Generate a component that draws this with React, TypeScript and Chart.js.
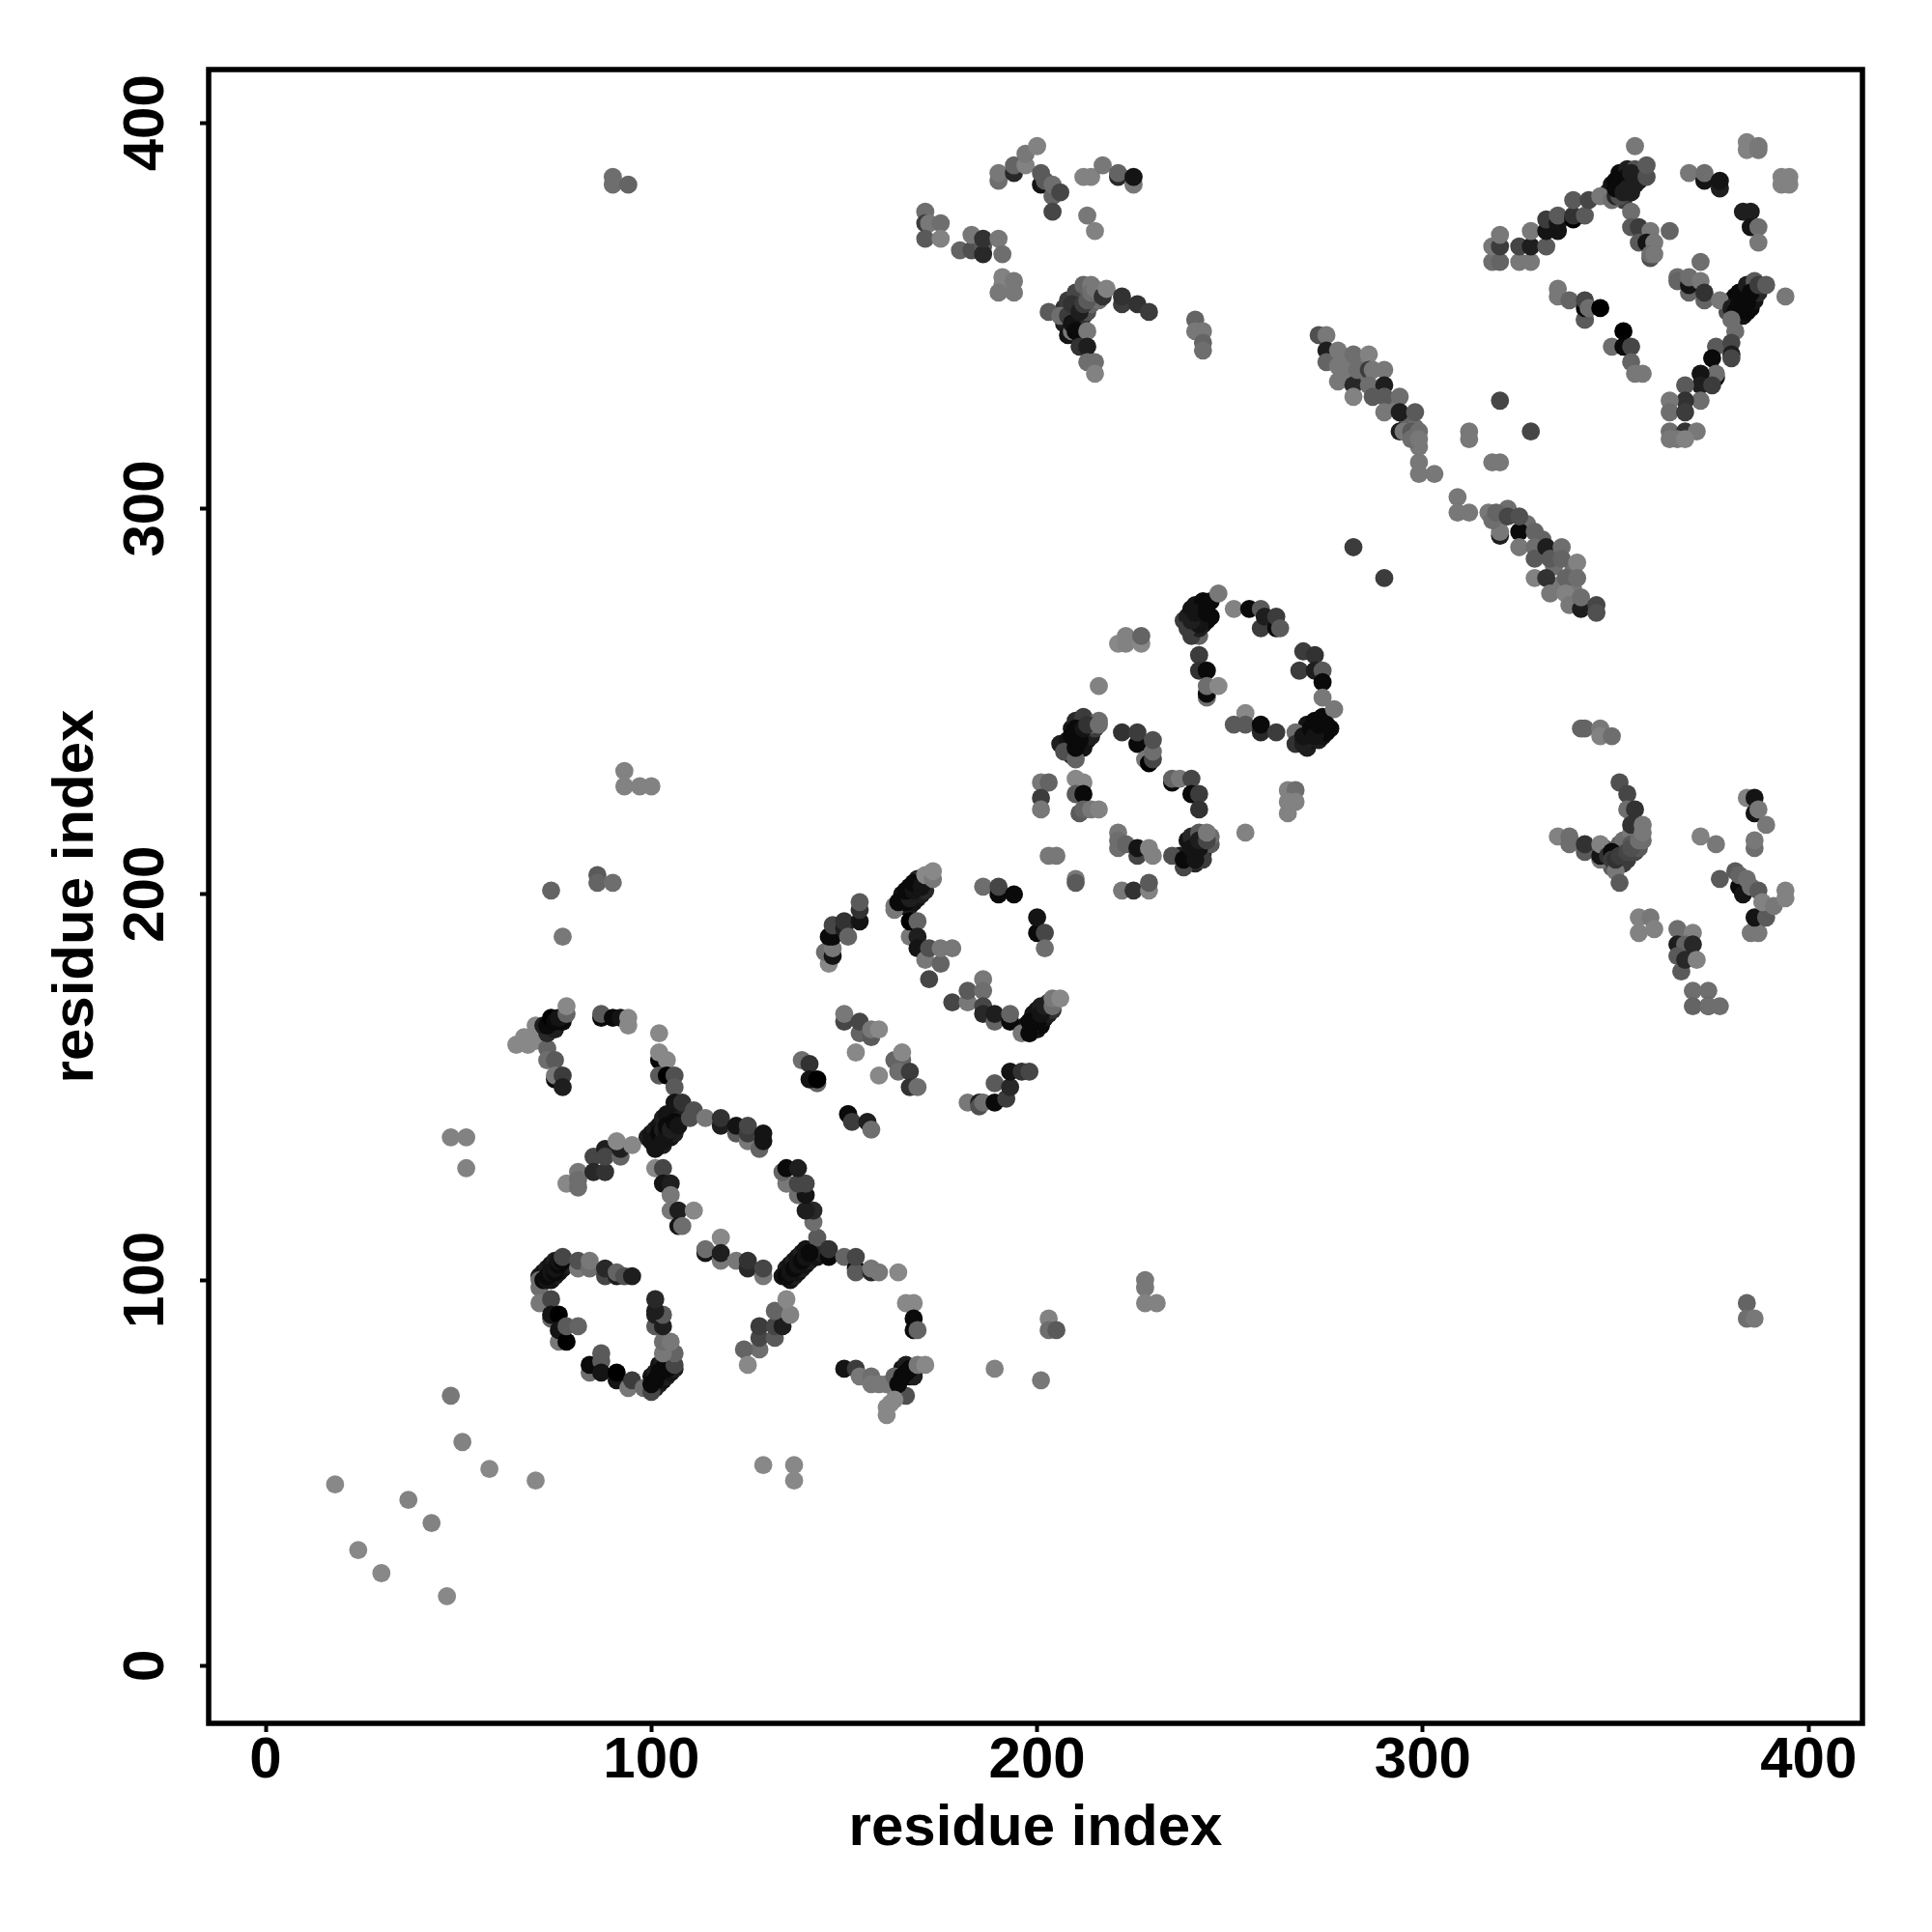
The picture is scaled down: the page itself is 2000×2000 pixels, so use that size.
import React, { useEffect, useRef } from "react";
import { Chart, registerables } from "chart.js";
Chart.register(...registerables);

type P = [number, number, number]; // residue x, residue y, grey level

const tickValues = [0, 100, 200, 300, 400];
const xAxisTitle = "residue index";
const yAxisTitle = "residue index";

const bandFill: P[] = [[71,101,30],[72,102,20],[73,103,30],[74,104,20],[75,105,30],[74,100,20],[75,101,30],[76,102,20],[77,103,20],[78,104,30],[99,72,30],[100,75,20],[101,76,30],[102,78,20],[103,79,30],[104,80,60],[101,72,20],[102,73,30],[103,74,20],[104,75,30],[105,76,20],[106,77,30],[135,103,30],[136,104,20],[137,105,30],[138,106,20],[139,107,30],[140,108,20],[136,100,20],[137,101,30],[138,102,20],[139,103,30],[140,104,20],[141,105,30],[142,106,30],[143,106,20],[143,108,30],[144,107,30],[145,108,40],[99,137,30],[100,138,20],[101,139,30],[102,140,20],[103,142,30],[104,143,20],[102,135,20],[103,135,30],[105,137,20],[106,138,30],[107,142,20],[108,143,30],[163,72,30],[164,75,10],[165,77,20],[166,78,30],[167,75,10],[168,76,10],[165,200,20],[167,202,10],[169,204,30],[170,204,60],[171,203,60],[165,197,20],[167,197,30],[168,198,20],[169,199,20],[170,200,30],[171,201,40],[197,166,20],[199,169,20],[200,170,20],[201,171,30],[203,172,50],[199,165,10],[200,165,20],[201,166,10],[202,168,20],[203,169,30],[204,170,50],[206,239,30],[208,240,20],[209,243,20],[210,245,40],[212,246,60],[209,236,30],[212,238,20],[213,240,20],[214,241,30],[215,243,60],[216,245,110],[237,210,30],[239,214,20],[240,215,40],[242,216,90],[239,208,30],[241,208,40],[243,211,30],[245,213,90],[245,215,110],[243,209,60],[238,271,60],[239,272,30],[240,274,20],[241,275,20],[243,276,10],[245,276,10],[241,269,20],[243,270,20],[244,271,10],[245,272,10],[268,241,30],[270,244,20],[272,245,10],[274,246,10],[270,238,30],[271,240,20],[273,240,30],[274,241,20],[275,242,10],[276,243,10],[348,382,30],[349,384,20],[350,385,10],[351,387,10],[353,388,30],[351,381,20],[352,380,60],[354,382,30],[355,384,30],[356,385,30],[355,388,80],[379,351,80],[380,354,20],[381,355,10],[382,356,10],[384,358,30],[386,359,90],[381,350,10],[383,350,20],[384,351,10],[385,352,10],[386,354,20],[387,356,40],[207,352,50],[208,354,60],[210,356,70],[212,358,100],[214,358,120],[207,348,30],[212,350,50],[213,351,80],[214,353,100],[216,354,110],[216,356,110],[208,345,20],[352,208,60],[353,209,60],[355,211,70],[356,212,90],[357,214,110],[349,207,90],[346,211,20],[347,212,80],[351,213,100],[352,214,110],[354,216,120],[280,339,120],[281,334,120],[279,335,120],[284,338,120],[285,334,110],[288,331,100],[292,327,120],[296,322,100],[298,321,110],[299,316,120],[327,296,110],[331,292,100],[334,285,110],[335,280,120],[339,279,120],[322,300,110],[320,297,100],[339,284,110]];

const tailPoints: P[] = [[18,47,136],[24,30,136],[30,24,136],[37,43,130],[43,37,130],[47,18,136],[48,70,120],[51,58,130],[58,51,136],[70,48,136],[48,137,130],[52,137,130],[52,129,130],[129,52,136],[137,52,136],[137,48,136],[189,77,130],[201,74,120],[203,90,130],[203,87,110],[205,87,90],[228,100,120],[228,98,120],[228,94,130],[231,94,130],[384,94,100],[384,90,110],[386,90,120],[74,201,100],[77,189,120],[86,205,90],[86,203,100],[90,203,110],[93,232,130],[93,228,130],[97,228,130],[100,228,130],[90,386,110],[90,384,110],[94,384,100],[282,290,60],[290,282,60],[320,328,70],[328,320,70]];

const loopA: P[] = [[71,100,110],[71,98,110],[72,100,10],[73,100,20],[73,101,10],[74,102,20],[75,102,10],[75,103,20],[76,104,10],[76,105,20],[77,105,10],[77,106,70],[81,103,120],[81,105,80],[84,103,110],[84,105,120],[88,101,70],[88,103,40],[91,101,30],[91,102,100],[93,101,80],[95,101,30],[71,94,120],[74,95,70],[74,90,100],[74,91,20],[76,91,0],[76,84,120],[76,87,20],[78,84,0],[78,88,90],[81,88,100],[84,76,110],[84,78,10],[87,81,90],[87,79,90],[87,76,20],[91,74,20],[91,76,0],[94,72,120],[95,74,60],[98,72,110],[100,71,70],[100,73,10],[101,74,10],[102,76,10],[103,77,10],[104,77,10],[105,78,10],[106,78,70],[106,81,100],[103,81,120],[103,84,110],[105,84,120],[101,88,90],[103,88,30],[101,91,30],[103,91,90],[101,92,30],[101,95,40]];

const branchLower: P[] = [[114,107,20],[114,108,110],[118,111,136],[118,105,120],[118,107,30],[122,105,120],[125,103,40],[125,105,50],[129,101,120],[129,103,70],[143,111,90],[142,115,110],[134,101,20],[135,101,10],[136,102,20],[137,103,10],[138,104,20],[139,105,10],[140,106,20],[141,107,10],[146,106,10],[146,108,50],[142,118,40],[140,118,30],[138,122,110],[140,122,20],[135,125,120],[138,125,70],[140,125,70],[134,128,100],[135,129,10],[138,129,30],[150,106,100],[153,103,10],[153,102,90],[153,106,70],[157,102,40],[157,103,120],[159,102,120],[164,102,136],[128,82,110],[124,82,100],[125,78,136],[128,85,70],[132,85,90],[128,88,60],[132,88,70],[134,88,30],[132,92,100],[136,91,130],[135,95,136],[166,94,136],[168,94,136],[168,90,10],[168,87,10],[169,87,100],[150,77,20],[153,77,60],[154,75,120],[157,75,110],[157,73,120],[159,73,120],[161,73,120],[163,75,100],[166,70,80],[168,75,30],[164,73,10],[165,75,10],[166,76,10],[167,77,10],[169,78,120],[171,78,136],[163,69,136],[162,68,136],[161,67,136],[161,65,136]];

const branchUpper: P[] = [[65,161,136],[67,163,136],[68,161,136],[70,166,136],[70,162,136],[73,160,100],[73,157,110],[75,157,90],[75,152,10],[75,153,120],[77,153,60],[77,150,30],[73,164,40],[75,165,30],[72,166,30],[73,166,10],[74,168,0],[75,167,10],[77,167,10],[76,168,20],[78,169,100],[78,171,136],[87,168,10],[87,169,90],[90,168,10],[92,168,20],[94,168,136],[94,166,136],[102,164,136],[102,157,10],[102,159,136],[104,157,136],[102,153,90],[104,153,0],[106,153,80],[106,150,90],[78,125,136],[81,128,120],[81,126,110],[81,124,110],[85,132,70],[85,128,40],[88,128,50],[88,134,30],[88,132,70],[92,132,100],[92,134,30],[91,136,136],[95,135,136],[100,136,20],[101,134,20],[102,138,10],[103,136,20],[103,139,30],[104,138,20],[104,140,10],[105,139,30],[106,141,10],[106,146,20],[107,140,20],[108,146,50],[111,144,80],[110,142,80],[114,142,120],[118,140,30],[118,142,50],[122,138,90],[122,140,20],[125,136,120],[125,138,60],[125,140,70],[128,134,100],[129,136,20],[129,138,20],[101,129,136],[103,129,70],[103,125,20],[105,125,30],[105,122,120],[105,118,120],[107,118,30],[111,118,136],[107,114,20],[108,114,110]];

const middleA: P[] = [[139,157,110],[141,156,50],[143,151,100],[141,152,20],[143,152,0],[150,167,70],[150,169,120],[154,164,100],[154,167,70],[157,163,90],[157,165,120],[159,165,136],[153,159,136],[159,153,136],[163,157,100],[165,157,100],[165,159,136],[164,154,110],[167,154,60],[167,150,50],[169,150,110],[151,143,100],[151,143,10],[152,141,60],[156,141,30],[157,139,110],[146,182,136],[145,185,110],[147,184,20],[147,186,120],[146,189,10],[147,189,10],[147,192,70],[150,191,30],[150,193,50],[151,189,100],[154,193,20],[154,196,50],[154,198,90],[163,196,120],[163,197,120],[164,198,10],[166,198,10],[167,199,30],[166,201,10],[168,201,20],[168,203,10],[170,202,20],[171,205,136],[173,204,120],[173,206,136],[167,189,120],[167,193,0],[169,193,100],[169,189,30],[169,186,20],[171,183,120],[172,186,80],[175,182,100],[175,186,120],[178,186,120],[172,178,70],[186,202,110],[190,200,10],[190,202,70],[194,200,10],[200,190,10],[200,194,20],[202,190,70],[202,186,110],[178,172,70],[182,172,120],[182,175,90],[186,178,120],[186,175,110],[186,171,70],[186,169,40],[189,167,100],[189,169,30],[193,167,10],[193,169,100],[196,164,120],[198,164,100],[198,164,10],[198,167,10],[200,167,10],[201,169,20],[202,171,30],[204,171,110],[204,173,120],[206,173,136],[182,146,120],[185,146,30],[185,145,80],[186,146,110],[189,146,10],[189,151,90],[192,147,60],[193,150,40],[193,154,20],[196,154,50],[198,154,70]];

const middleB: P[] = [[203,210,120],[205,210,120],[210,204,120],[210,203,90],[222,201,120],[225,201,50],[229,201,130],[229,203,90],[216,254,130],[221,265,136],[223,265,130],[223,267,130],[227,265,136],[227,267,100],[207,237,80],[210,235,100],[210,238,10],[209,241,10],[211,240,10],[210,243,10],[212,243,20],[214,244,100],[213,244,50],[216,244,110],[222,242,50],[226,239,10],[226,242,60],[228,235,120],[229,234,0],[230,235,70],[230,237,110],[230,240,80],[201,229,120],[203,229,100],[201,225,60],[201,222,120],[210,230,136],[212,229,136],[210,226,90],[212,226,10],[211,221,90],[212,222,100],[214,222,120],[216,222,130],[235,229,10],[235,230,100],[237,230,120],[240,230,70],[240,226,10],[242,226,60],[242,222,50],[221,216,120],[221,214,110],[221,212,110],[223,213,100],[226,210,70],[226,212,20],[229,212,130],[230,210,130],[235,210,80],[238,207,70],[238,209,10],[241,209,20],[240,212,20],[242,212,20],[242,214,30],[244,214,70],[244,216,120],[254,216,130],[265,227,130],[267,227,110],[265,224,130],[267,224,130],[265,221,130],[242,267,100],[240,267,60],[242,269,30],[239,269,60],[242,270,20],[240,271,30],[241,273,20],[244,273,10],[244,275,10],[247,278,120],[251,274,130],[255,274,10],[258,274,90],[258,269,60],[259,272,30],[262,269,10],[262,272,60],[263,269,90],[242,262,60],[242,258,50],[244,258,10],[244,251,110],[244,252,10],[244,254,110],[247,254,136],[268,258,60],[269,263,60],[272,262,50],[272,258,30],[274,258,90],[274,255,10],[274,251,120],[277,248,120],[254,247,136],[251,244,90],[254,244,90],[258,242,40],[258,244,10],[262,242,60],[267,242,110],[267,239,50],[269,239,30],[269,241,20],[271,243,10],[272,241,20],[273,244,10],[275,244,10]];

const ridgeDiagonal: P[] = [[273,345,80],[275,345,120],[275,341,30],[275,338,100],[278,341,120],[278,337,120],[278,333,120],[280,337,120],[282,340,110],[286,340,130],[282,332,40],[283,336,110],[282,329,130],[286,336,60],[287,336,120],[290,336,120],[286,332,110],[290,332,30],[287,329,90],[290,329,90],[294,329,110],[290,325,120],[294,325,30],[298,325,90],[294,320,30],[295,320,120],[297,320,90],[299,320,110],[297,318,110],[299,318,120],[299,312,120],[299,309,120],[303,309,120],[312,320,120],[312,318,120],[318,312,120],[320,312,120],[309,303,120],[309,299,120],[312,299,120],[317,299,120],[320,293,30],[320,294,120],[318,297,110],[319,299,100],[322,298,70],[325,294,10],[325,298,80],[325,290,120],[329,294,100],[329,290,110],[329,287,90],[332,290,30],[333,287,90],[336,290,110],[336,287,100],[340,286,130],[329,282,130],[332,282,50],[337,282,100],[340,282,110],[333,278,120],[337,278,130],[338,275,120],[341,274,30],[341,277,110],[345,275,70],[345,273,80],[342,349,110]];

const upperRight: P[] = [[318,364,110],[318,368,120],[320,364,100],[320,368,60],[320,371,120],[325,364,120],[325,368,70],[328,364,120],[328,368,30],[328,372,120],[332,368,90],[332,372,20],[332,375,60],[335,372,20],[335,374,20],[335,376,90],[339,375,0],[339,376,50],[339,380,90],[342,376,90],[343,380,70],[346,381,120],[349,380,110],[350,381,40],[351,381,80],[350,383,10],[351,385,10],[352,382,30],[353,386,10],[353,383,30],[354,387,30],[355,386,30],[358,386,80],[358,389,90],[355,394,120],[369,387,120],[373,385,20],[373,387,110],[377,383,30],[377,385,20],[384,395,130],[384,393,130],[387,394,120],[387,393,120],[393,386,130],[393,384,130],[395,386,130],[395,384,130],[383,377,30],[385,377,30],[385,373,20],[387,373,110],[387,369,120],[354,377,110],[354,373,90],[356,373,60],[359,372,120],[364,372,100],[356,369,90],[358,369,20],[360,369,120],[359,365,80],[359,366,110],[360,366,120],[335,357,120],[335,355,120],[338,354,100],[342,349,90],[342,352,10],[342,354,70],[343,352,110],[346,352,0],[349,342,110],[352,342,10],[352,346,0],[354,342,70],[354,338,100],[355,335,120],[357,335,120],[372,364,110],[366,360,110],[366,359,100],[369,356,100],[369,358,20],[369,360,110],[372,359,120],[373,354,100],[373,356,50],[377,354,120],[380,352,30],[381,351,10],[383,352,10],[382,353,10],[384,353,10],[384,354,10],[385,356,10],[387,358,60],[389,358,90],[394,355,120],[380,349,110],[381,346,110],[376,342,90],[380,343,70],[380,340,30],[380,339,70],[375,339,10],[376,334,20],[376,335,110],[372,335,20],[372,332,30],[375,332,60],[372,328,110],[368,332,90],[368,328,50],[364,328,120],[364,325,110],[368,325,60],[364,320,110],[368,320,50],[371,320,120],[364,318,120],[366,318,120],[368,318,130]];

const topCentre: P[] = [[171,377,110],[171,374,60],[172,374,120],[175,374,110],[171,370,90],[175,370,130],[180,367,100],[183,367,80],[183,371,120],[186,368,90],[186,366,40],[186,370,50],[190,370,120],[191,366,110],[191,360,130],[191,358,130],[194,359,120],[190,356,120],[194,356,120],[190,385,110],[190,387,120],[194,387,40],[194,389,100],[197,389,130],[197,392,120],[200,394,130],[201,384,20],[201,387,90],[202,385,90],[204,381,100],[204,384,110],[204,377,70],[206,382,70],[212,386,130],[214,386,130],[217,389,120],[221,386,40],[221,387,100],[225,384,120],[225,386,20],[213,376,120],[215,372,130],[203,351,90],[206,350,110],[208,350,60],[209,346,120],[209,348,20],[209,353,50],[210,346,10],[211,351,30],[212,353,60],[213,354,90],[213,346,120],[214,356,110],[215,357,120],[217,355,50],[218,357,130],[222,353,60],[222,355,50],[226,353,50],[229,351,60],[211,342,50],[213,342,30],[213,338,110],[215,338,110],[215,335,130],[241,349,100],[241,346,120],[243,346,120],[243,343,100],[243,341,110]];

const lowerRight: P[] = [[341,243,100],[342,243,100],[346,243,120],[346,241,130],[349,241,110],[335,215,130],[338,213,110],[338,215,110],[342,211,90],[342,213,50],[346,209,120],[346,210,20],[346,213,130],[351,229,80],[353,226,70],[353,222,110],[355,222,50],[354,218,50],[348,210,50],[349,211,10],[349,209,60],[350,206,120],[351,203,90],[350,209,50],[351,210,60],[353,211,70],[354,213,90],[354,212,80],[356,214,110],[357,216,120],[357,218,120],[384,225,130],[386,225,20],[386,221,20],[387,222,120],[389,218,120],[386,212,110],[386,214,120],[372,215,130],[376,213,120],[377,204,90],[382,202,10],[381,206,90],[382,205,100],[383,200,20],[384,204,110],[385,202,110],[387,201,90],[385,190,120],[387,190,120],[386,194,20],[389,194,90],[388,198,130],[391,197,120],[394,199,130],[394,201,130],[356,194,130],[359,194,120],[356,190,130],[360,191,130],[366,191,110],[370,190,130],[366,187,30],[368,187,100],[370,187,40],[366,184,90],[367,180,90],[368,183,40],[371,183,130],[370,175,110],[374,175,110],[370,171,100],[374,171,60],[374,171,110],[377,171,110]];

const allPoints: P[] = [...bandFill, ...tailPoints, ...loopA, ...branchLower, ...branchUpper, ...middleA, ...middleB, ...ridgeDiagonal, ...upperRight, ...topCentre, ...lowerRight];

const grey = (v: number) => `rgb(${v},${v},${v})`;

const framePlugin = {
  id: "frame",
  afterDatasetsDraw(chart: any) {
    const { ctx, chartArea: a } = chart;
    ctx.save();
    ctx.strokeStyle = "#000";
    ctx.lineWidth = 5.5;
    ctx.strokeRect(a.left, a.top, a.right - a.left, a.bottom - a.top);
    ctx.restore();
  },
};

export default function App() {
  const ref = useRef<HTMLCanvasElement>(null);
  useEffect(() => {
    const font = { family: "'Liberation Sans'", size: 60, weight: "bold" as const };
    const chart = new Chart(ref.current!, {
      type: "scatter",
      data: {
        datasets: [
          {
            data: allPoints.map(([x, y]) => ({ x, y })),
            backgroundColor: allPoints.map((p) => grey(p[2])),
            borderWidth: 0,
            pointRadius: 9.4,
          },
        ],
      },
      options: {
        responsive: false,
        animation: false,
        layout: { padding: { left: 0, top: 72, right: 72, bottom: 0 } },
        plugins: { legend: { display: false }, tooltip: { enabled: false } },
        scales: {
          x: {
            type: "linear",
            min: -14.78,
            max: 413.97,
            afterFit: (s: any) => { s.height = 216; },
            afterBuildTicks: (s: any) => { s.ticks = tickValues.map((value) => ({ value })); },
            border: { display: false },
            grid: { drawOnChartArea: false, drawTicks: true, tickLength: 9, tickWidth: 4, tickColor: "#000" },
            ticks: { color: "#000", font, padding: -6, autoSkip: false, maxRotation: 0, minRotation: 0 },
            title: { display: true, text: xAxisTitle, color: "#000", font, padding: { top: 0, bottom: 71 } },
          },
          y: {
            type: "linear",
            min: -14.95,
            max: 413.85,
            afterFit: (s: any) => { s.width = 216; },
            afterBuildTicks: (s: any) => { s.ticks = tickValues.map((value) => ({ value })); },
            border: { display: false },
            grid: { drawOnChartArea: false, drawTicks: true, tickLength: 9, tickWidth: 4, tickColor: "#000" },
            ticks: { color: "#000", font, padding: 4, autoSkip: false, minRotation: 90, maxRotation: 90, crossAlign: "center" },
            title: { display: true, text: yAxisTitle, color: "#000", font, padding: { top: 43, bottom: 0 } },
          },
        },
      },
      plugins: [framePlugin],
    } as any);
    return () => chart.destroy();
  }, []);
  return (
    <canvas
      ref={ref}
      width={2000}
      height={2000}
      style={{ position: "absolute", left: 0, top: 0, width: 2000, height: 2000, background: "#fff" }}
    />
  );
}
